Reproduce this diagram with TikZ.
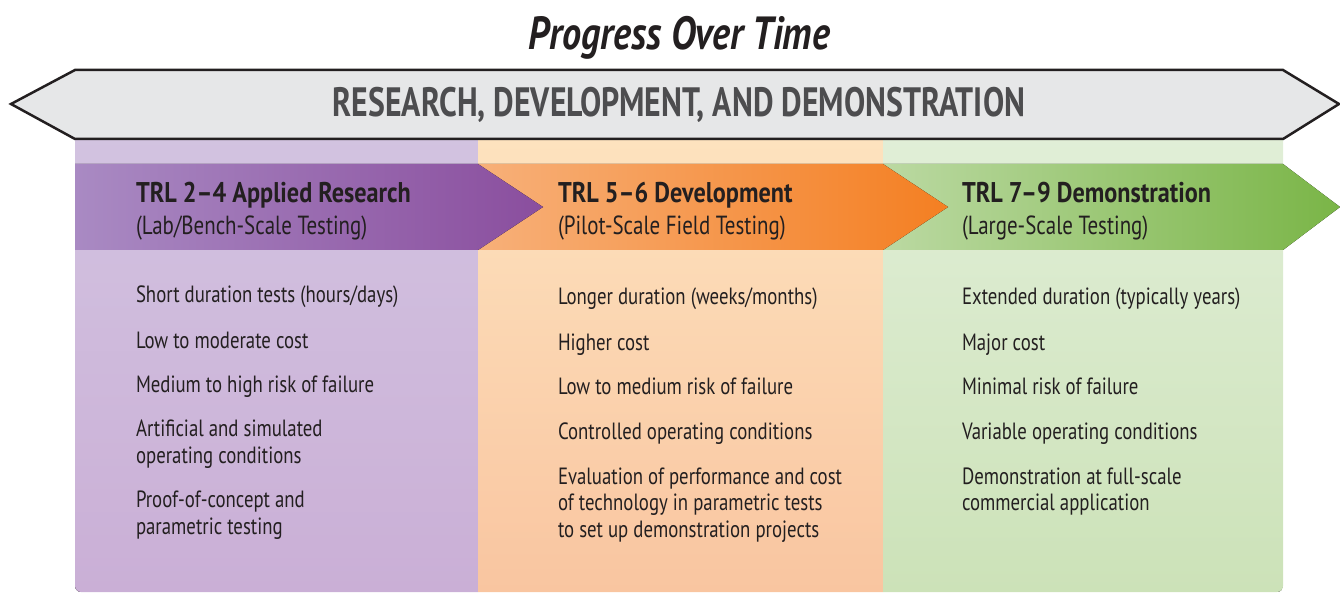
\documentclass[tikz,border=0pt]{standalone}
\usepackage{fontspec}
\setmainfont{PT Sans}[FakeStretch=0.8]
\newfontfamily\titlefont{PT Sans}[FakeStretch=0.82]
\newfontfamily\bannerfont{PT Sans}[FakeStretch=0.775]
\newfontfamily\headfont{PT Sans}[FakeStretch=0.85]
\definecolor{ink}{HTML}{231F20}
\definecolor{bannerfill}{HTML}{E6E7E8}
\definecolor{bannertext}{HTML}{4D4D4F}
\definecolor{pColTop}{HTML}{D3C4E1}
\definecolor{pColBot}{HTML}{CAAFD6}
\definecolor{oColTop}{HTML}{FDE4C0}
\definecolor{oColBot}{HTML}{F9C5A0}
\definecolor{gColTop}{HTML}{E2EFD9}
\definecolor{gColBot}{HTML}{CCE2B8}
\definecolor{pBandL}{HTML}{A98AC3}
\definecolor{pBandR}{HTML}{8A4E9E}
\definecolor{oBandL}{HTML}{F7B079}
\definecolor{oBandR}{HTML}{F47F22}
\definecolor{gBandL}{HTML}{BBD9A2}
\definecolor{gBandR}{HTML}{7AB547}
\tikzset{
  txt/.style={anchor=base west, inner sep=0pt, outer sep=0pt, text=ink, font=\fontsize{23.5}{28}\selectfont},
  head/.style={anchor=base west, inner sep=0pt, outer sep=0pt, text=ink, font=\headfont\bfseries\fontsize{28.5}{32}\selectfont},
  sub/.style={anchor=base west, inner sep=0pt, outer sep=0pt, text=ink, font=\fontsize{26.2}{30}\selectfont},
}
\begin{document}
\begin{tikzpicture}[x=1pt,y=-1pt]
\useasboundingbox (0,0) rectangle (1340,593);
% columns
\begin{scope}
\clip[rounded corners=6pt] (75,110) rectangle (1283,592);
\fill[top color=pColTop, bottom color=pColBot] (75,110) rectangle (478,592);
\fill[top color=oColTop, bottom color=oColBot] (478,110) rectangle (883,592);
\fill[top color=gColTop, bottom color=gColBot] (883,110) rectangle (1283,592);
\end{scope}
% bands
\fill[left color=gBandL, right color=gBandR] (883,164) -- (1283,164) -- (1340,207) -- (1283,250) -- (883,250) -- cycle;
\fill[left color=oBandL, right color=oBandR] (478,164) -- (883,164) -- (948,207) -- (883,250) -- (478,250) -- cycle;
\fill[left color=pBandL, right color=pBandR] (75,164) -- (478,164) -- (543,207) -- (478,250) -- (75,250) -- cycle;
% banner
\draw[fill=bannerfill, draw=ink, line width=2.5pt, line join=miter]
  (11,104) -- (75,70) -- (1283,70) -- (1339,104) -- (1283,139) -- (75,139) -- cycle;
\node[inner sep=0pt, text=bannertext, font=\bannerfont\bfseries\fontsize{41}{45}\selectfont, anchor=base] (banner) at (679,117) {RESEARCH, DEVELOPMENT, AND DEMONSTRATION};
\node[inner sep=0pt, text=ink, font=\titlefont\bfseries\itshape\fontsize{46.5}{50}\selectfont, anchor=base] (title) at (679,50) {Progress Over Time};
% headings
\node[head] (h1) at (136,203) {TRL 2–4 Applied Research};
\node[sub] (s1) at (136,235) {(Lab/Bench-Scale Testing)};
\node[head] (h2) at (558,203) {TRL 5–6 Development};
\node[sub] (s2) at (558,235) {(Pilot-Scale Field Testing)};
\node[head] (h3) at (962,203) {TRL 7–9 Demonstration};
\node[sub] (s3) at (962,235) {(Large-Scale Testing)};
% column 1
\node[txt] (a1) at (136,303) {Short duration tests (hours/days)};
\node[txt] (a2) at (136,348) {Low to moderate cost};
\node[txt] (a3) at (136,392) {Medium to high risk of failure};
\node[txt] (a4) at (136,436) {Artificial and simulated};
\node[txt] (a4b) at (136,463) {operating conditions};
\node[txt] (a5) at (136,507) {Proof-of-concept and};
\node[txt] (a5b) at (136,534) {parametric testing};
% column 2
\node[txt] (b1) at (558,305) {Longer duration (weeks/months)};
\node[txt] (b2) at (558,350) {Higher cost};
\node[txt] (b3) at (558,394) {Low to medium risk of failure};
\node[txt] (b4) at (558,439) {Controlled operating conditions};
\node[txt] (b5) at (558,484) {Evaluation of performance and cost};
\node[txt] (b5b) at (558,510) {of technology in parametric tests};
\node[txt] (b5c) at (558,537) {to set up demonstration projects};
% column 3
\node[txt] (c1) at (962,305) {Extended duration (typically years)};
\node[txt] (c2) at (962,350) {Major cost};
\node[txt] (c3) at (962,394) {Minimal risk of failure};
\node[txt] (c4) at (962,439) {Variable operating conditions};
\node[txt] (c5) at (962,484) {Demonstration at full-scale};
\node[txt] (c5b) at (962,510) {commercial application};
\end{tikzpicture}
\end{document}
